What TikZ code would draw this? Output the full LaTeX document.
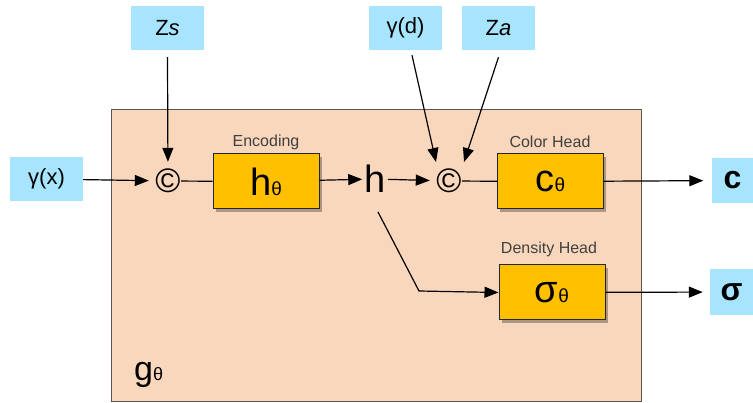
\documentclass[tikz,border=0pt]{standalone}
\usepackage{fontspec}
\setmainfont{Liberation Sans}
\usetikzlibrary{arrows.meta,shadows,calc}
\definecolor{cyanbox}{HTML}{A6E5FD}
\definecolor{peach}{HTML}{F9D7BC}
\definecolor{amber}{HTML}{FFC000}
\definecolor{framec}{HTML}{5E5450}
\newcommand{\fsz}[1]{\fontsize{#1}{#1}\selectfont}
\begin{document}
\begin{tikzpicture}[x=1pt,y=-1pt,
  inbox/.style={fill=cyanbox, minimum width=73pt, minimum height=44pt, inner sep=0pt, font=\fsz{22}},
  mlp/.style={fill=amber, draw=black!85, line width=1pt, minimum width=106pt, minimum height=55pt, inner sep=0pt,
    drop shadow={shadow xshift=2.5pt, shadow yshift=-3pt, opacity=0.3, fill=black}},
  cat/.style={circle, minimum size=38pt, inner sep=0pt, font=\fsz{34}},
  lab/.style={font=\fsz{16}, text=black!75, inner sep=0pt},
  arr/.style={-{Triangle[length=14pt,width=11pt]}, line width=1.2pt},
  ln/.style={line width=1.2pt}]
\useasboundingbox (0,0) rectangle (753,403);
\draw[fill=peach, draw=framec, line width=1pt] (111.5,110) rectangle (641.5,402);

% inputs
\node[inbox] (zs) at (167.5,28) {Z\textit{s}};
\node[inbox] (gx) at (46.5,179) {γ(x)};
\node[inbox] (gd) at (405.5,28) {γ(d)};
\node[inbox] (za) at (498.5,28) {Z\textit{a}};
% outputs
\node[inbox, minimum width=42pt, minimum height=45pt, font=\fsz{32}\bfseries] (cout) at (732.5,180.5) {c};
\node[inbox, minimum width=43pt, minimum height=46pt, font=\fsz{32}\bfseries] (sout) at (731.5,292) {σ};

% concat nodes
\node[cat] (c1) at (168,181) {©};
\node[cat] (c2) at (449,181) {©};

% MLP boxes
\node[mlp] (hb) at (266,181.5) {{\fsz{38}h}{\fsz{19}θ}};
\node[mlp] (cb) at (550.5,181.5) {{\fsz{38}c}{\fsz{19}θ}};
\node[mlp] (sb) at (552,292.5) {{\fsz{38}σ}{\fsz{19}θ}};

\node[font=\fsz{38}, inner sep=2pt] (h) at (375,179) {h};

% labels
\node[lab] (enc) at (266,142) {Encoding};
\node[lab] (colh) at (550,142) {Color Head};
\node[lab] (denh) at (549,249) {Density Head};
\node[anchor=base west, inner sep=0pt] (g) at (134,381) {{\fsz{34}g}{\fsz{18}θ}};

% coordinates
\coordinate (e1) at (436,162);
\coordinate (e2) at (464,162);
\coordinate (hd) at (378,212);
\coordinate (hk) at (419,291);

% connectors
\draw[arr] (gx) -- (c1);
\draw[arr] ([yshift=-7pt]zs.south) -- (c1);
\draw[ln, shorten <=-6pt] (c1) -- (hb);
\draw[arr] (hb) -- (h);
\draw[arr] (h) -- (c2);
\draw[arr] ([xshift=6.5pt,yshift=-5pt]gd.south) -- (e1);
\draw[arr] ([yshift=-7pt]za.south) -- (e2);
\draw[ln, shorten <=-6pt] (c2) -- (cb);
\draw[arr, shorten >=8pt] (cb) -- (cout);
\draw[arr] (hd) -- (hk) -- (sb.west);
\draw[arr, shorten >=7pt] (sb) -- (sout);
\end{tikzpicture}
\end{document}
